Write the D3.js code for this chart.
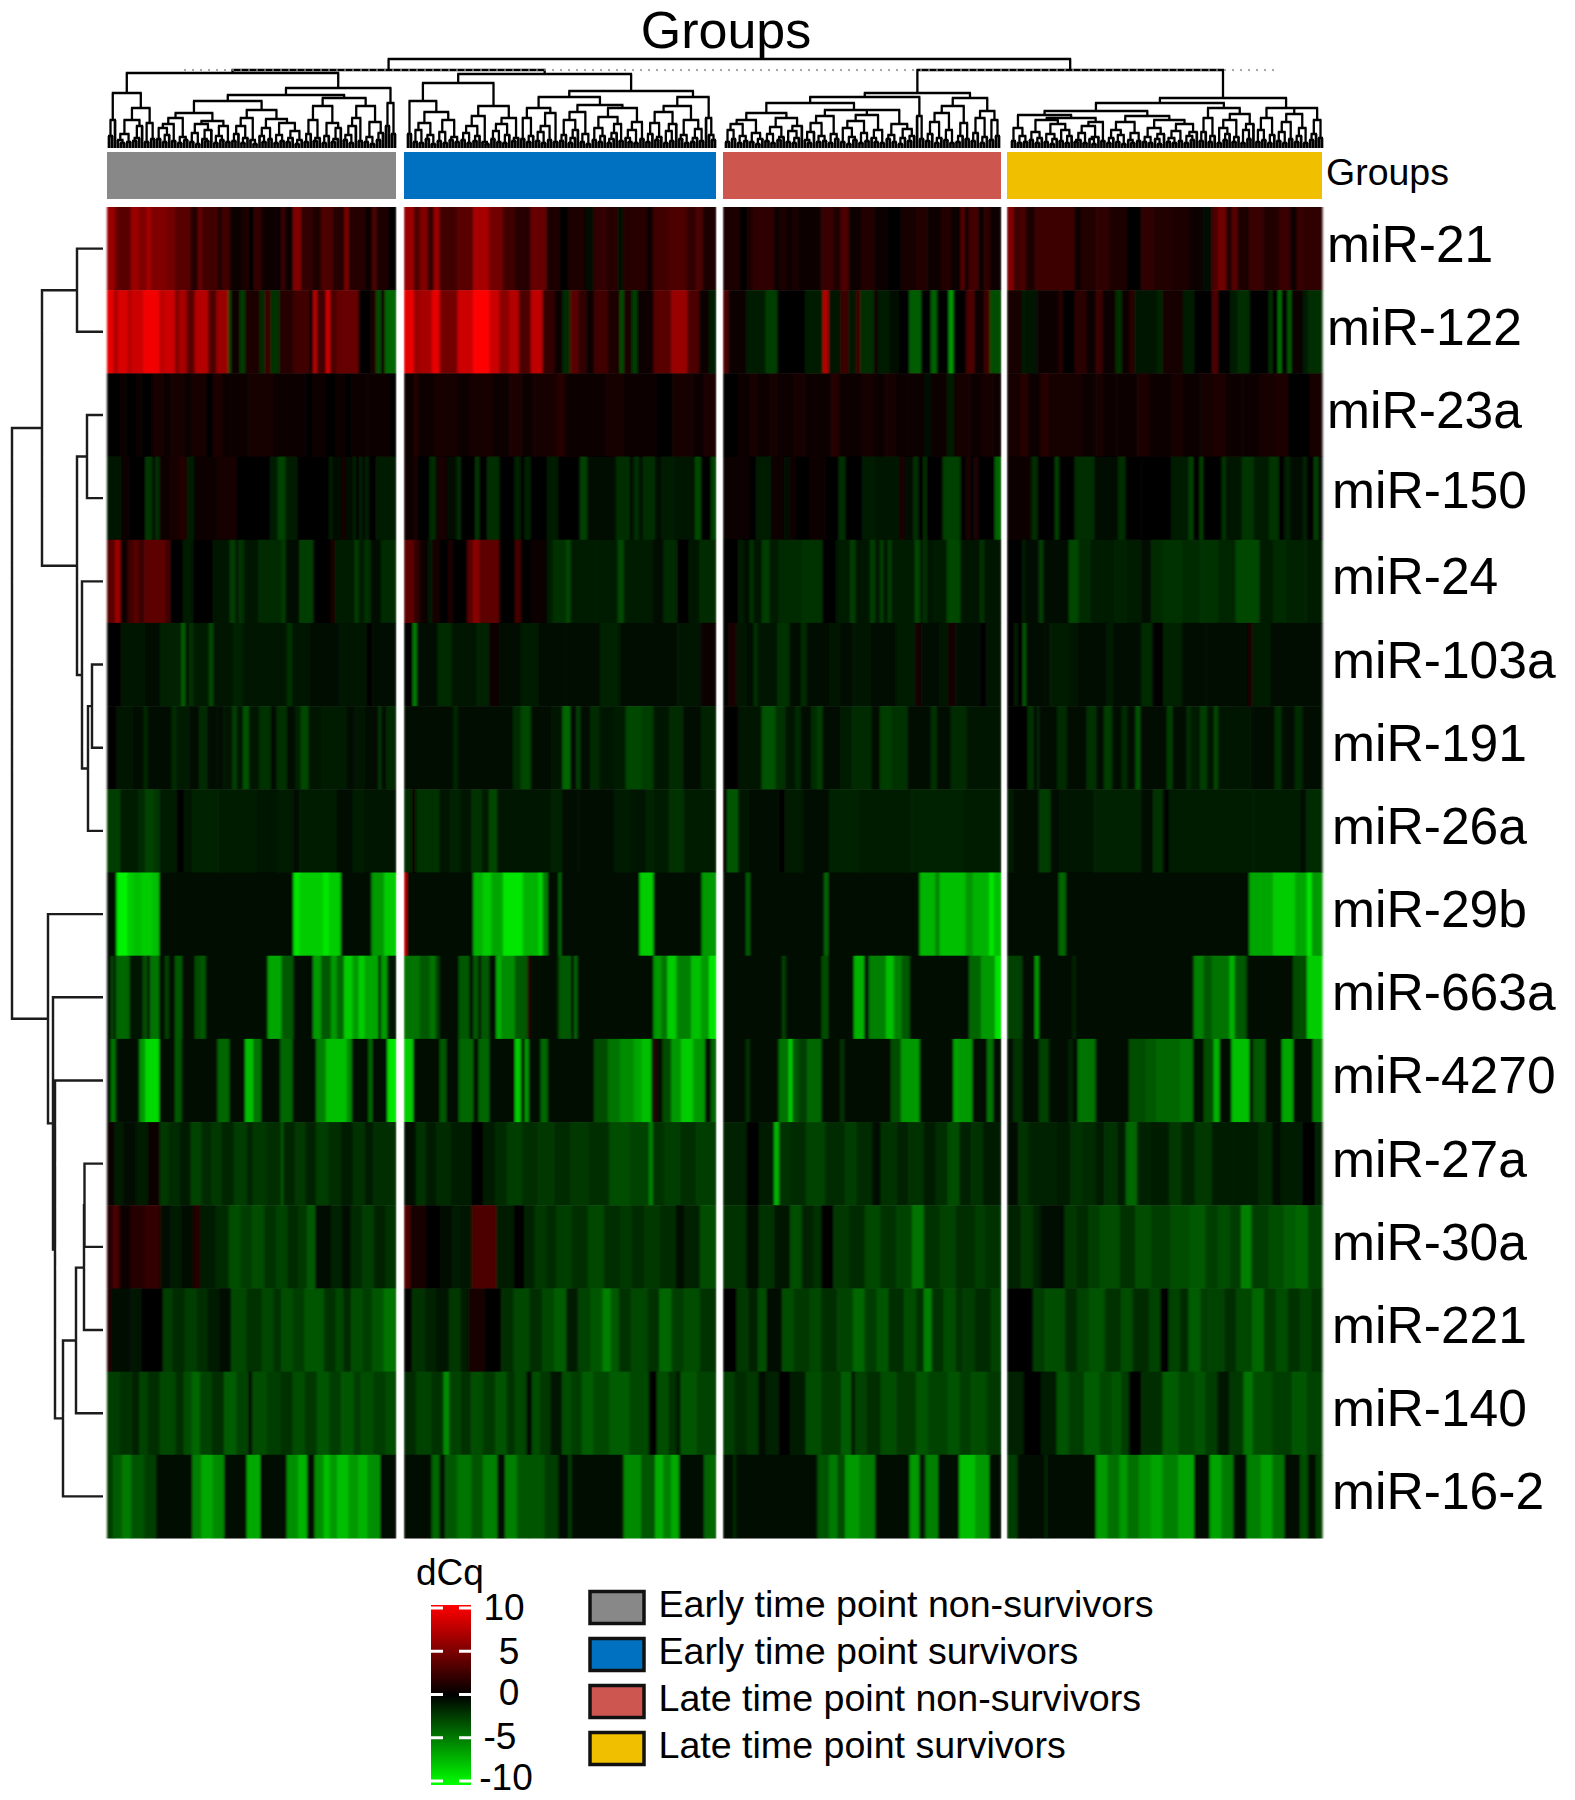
<!DOCTYPE html>
<html><head><meta charset="utf-8">
<script src="https://cdnjs.cloudflare.com/ajax/libs/d3/7.8.5/d3.min.js"></script>
<style>html,body{margin:0;padding:0;background:#fff}svg{display:block}text{font-family:"Liberation Sans",Arial,sans-serif;fill:#000}</style>
</head><body><svg id="c" width="1575" height="1800"></svg>
<script>
// ---------- categories ----------
const rowNames=["miR-21","miR-122","miR-23a","miR-150","miR-24","miR-103a","miR-191","miR-26a","miR-29b","miR-663a","miR-4270","miR-27a","miR-30a","miR-221","miR-140","miR-16-2"];
const groupNames=["Early time point non-survivors","Early time point survivors","Late time point non-survivors","Late time point survivors"];
const groupColors=["#888888","#0070c0","#cd5650","#f0c000"];
const legendTicks=[10,5,0,-5,-10];
// ---------- heatmap values: per row, per group, flat pairs [run width, dCq] ----------
const miR21=[[2,6,1,4,3,3.5,2,6,2,5,1,6.5,4,5,2,4.5,4,3.5,2,1.5,1,4,4,2.5,1,1,2,2.5,3,.5,2,1,1,0,2,2,5,.5,1,2,2,.5,2,5,3,2,2,1,3,3,3,1.5,1,5,4,1.5,2,.5,1,3,3,1,2,0],
[2.5,6,1.5,3,2,5,1.5,2,1.5,6,4.5,2.5,4,3.5,4,6.5,3.5,4.5,3,2.5,4,1.5,4,4,3.5,1,2,0,4.5,1,2,-.5,3.5,2,2.5,1.5,1.5,-.5,6,1.5,1.5,.5,4,2.5,4.5,3,2.5,2,1.5,3,3.5,1],
[4.5,1,1.5,0,1.5,1.2,5.5,1.8,1.5,.5,1.5,1.2,1.5,.3,2,.8,5.5,.5,3,2.2,2,1.3,2,3,3,.5,3.5,1.3,3.5,.5,3,0,4,.8,3,1.3,3.5,.5,2.5,1.3,2.5,.5,1,3.5,1,.5,2.5,2.6,1.5,.5,1.5,1.8,2.8,.5],
[1.7,5,2,2.5,1,3,2.5,1,10,2.4,1.5,.5,4,1.3,3.5,1.8,4.5,1,3.5,0,3,1.8,5,1.4,4,1,3.5,.5,2.5,-.3,1.5,3,2,4.5,1.5,1.3,1.5,3.5,3,1,3.5,2.2,4,1.3,3,2.2,1.5,.5,1.5,2.2,5,1.8]];
const miR122=[[17,9,10,6.5,25,8.5,10,7,30,8,40,9.5,15,7.5,25,8,10,5,20,6.5,20,3.5,35,7,20,3,30,6,8,-2.4,22,.5,12,-2.4,38,1,13,-1.6,14,2.4,23,-2,35,1.5,40,2.5,10,.5,10,7,22,2.5,11,8,17,3,55,4,30,0,15,1,12,-3,10,.5,28,-4],
[25,9,15,6,30,6.5,20,9,45,4.5,40,8,40,10,25,8,25,5.5,25,7,30,3,30,7.5,30,2,20,.5,20,-1.6,20,3.5,20,2,20,.5,35,2.5,30,1,10,-3,20,1,15,-2.4,40,.5,45,3.5,40,6,30,3,25,.5,18,-1.2],
[13,3,45,.4,50,-1.2,30,-2.4,70,.2,45,-1.2,15,7,30,-.7,20,2.4,20,-.7,10,2.4,35,-1.8,10,.8,30,-1,25,-.4,25,.2,30,-3.6,25,.2,15,-3.8,30,-.2,12,-6,33,0,20,3,25,.4,15,2.4,28,-3],
[37,.8,10,-1.2,30,-.7,55,.6,10,1.6,30,.2,30,1.6,25,.3,15,2.4,35,.4,15,-2,20,.4,12,1.6,58,-.7,15,-1.4,50,.7,30,-1,45,.2,15,3,30,.2,20,-1,30,-1.8,50,.2,8,-2,15,.2,9,-4.5,15,.2,10,-3.6,28,.4,15,-1,35,-1.8]];
const miR23a=[[4,.2,2,.6,3,.2,2,.5,3,.2,4,.8,2,.3,4,.8,2,.3,5,.7,2,.2,3,1,2,.3,4,.6,2,.3,8,.7,2,.4,5,.5,3,.5,2,.2,4,.5,3,0,3,.5,2,.2,5,.6,3,.3,4,.6,2,.2],
[2.5,.5,1,1.5,4,.4,6,.7,3,.4,6,.8,4,.5,3,1,3,.4,6,.7,2,1.5,7,.5,3,.3,5,.8,4,.4,4,.6,4,.2,5,.8,3,.3,3,1],
[4,.2,3,.6,2,.9,3,.3,2,.9,4,.4,3,.8,7,.6,2,1.5,3,.6,3,.3,3,.7,3,.4,3,.7,3,.3,4,.6,2,-.5,4,.6,2,-1,4,.8,3,.3,3,.9,2,.5],
[3,.7,2,1.5,3,.4,2,1.5,8,.9,3,.4,2,.8,3,.3,5,.6,3,1,5,.5,3,.8,4,.4,3,.8,3,1,4,.6,4,.3,4,.7,3,1.1,5,.2,3,.8]];
const miR150=[[37,-.7,20,.6,40,0,18,-2.2,7,0,10,-1.8,25,.3,25,.7,20,1.3,20,-1,55,.4,50,.7,70,0,15,.2,20,-1,20,-2.6,30,-1,80,.2,10,-1,22,-.3,10,.7,18,-.3,7,-1.4,10,.2,8,-1.4,7,0,8,-1.4,20,0,50,-1],
[25,.4,8,1.1,32,-.2,15,-1.8,28,.7,25,-.3,9,-1.8,38,-.2,10,-2.1,20,.2,30,-1.8,40,-.2,15,-1.4,10,.1,15,-1.4,40,.2,30,-1,55,.2,17,-2.5,73,-.5,35,-1.8,10,-.3,15,-1.8,7,-.2,33,-1.8,15,-.3,30,-1,55,-.7,15,-2.8,25,-.2,13,-2.5],
[68,.3,15,.1,40,-1,30,.4,15,-.3,15,.6,35,0,30,.4,15,.4,30,-.2,17,-1.8,43,.1,35,-1,60,-.7,12,1.1,23,-.3,13,-1.8,12,.1,10,-1.8,40,.1,45,-2.5,15,.1,10,1.1,10,0,10,1.1,42,-.2,16,-4],
[62,.4,15,-1.8,45,.2,10,-2.5,40,.1,50,-1.8,60,-.3,20,-1.8,40,-.2,60,0,15,.1,45,-1,12,-2.5,16,-.2,9,-2.5,48,-.2,10,-2.1,40,-.7,30,-2.1,40,-1,25,-2.1,15,-.2,15,-1.4,30,-.3,10,-1.4,20,-.1,10,-2.5,10,-.3]];
const miR24=[[20,3.5,14,6,20,.5,13,2.6,13,3.5,14,2.2,53,3.6,13,2.6,32,.2,25,-1.2,50,.1,45,-.8,13,-2.4,7,-.4,15,-2,35,-.8,60,-1.6,10,-2.4,35,-.4,35,-2.4,45,-.2,10,1.2,50,-1.2,10,-2.4,15,-1.2,15,-2,27,-.4,38,-1.6],
[25,3.6,15,2,20,.3,10,-1.2,20,.8,20,.2,15,1,35,.2,15,3.6,15,5.4,50,3.6,40,0,15,2.6,25,.2,40,.4,15,-1.2,35,-2,10,-2.8,65,-1.2,55,-1.2,15,-2.8,75,-1.2,25,-.3,35,-1.6,30,0,25,-.8,43,-1.6],
[38,0,15,-1.2,15,-.6,10,-2,20,-.8,20,-2.4,25,-1.2,55,-1.6,55,-2,35,0,35,-1.2,13,-2.4,37,-.8,13,-2.4,12,-.8,10,-2.4,10,-.8,10,-2.4,60,-1.2,12,-2.8,8,-.8,10,-2,15,-.8,35,-1,35,-2.8,50,-.8,10,-2,43,-.8],
[37,0,10,-1.2,35,-.4,10,-2.4,65,-.4,25,-2.8,30,-1.6,30,-1.2,30,-1,35,-1.4,35,-1,25,-.3,30,-1.6,50,-2,45,-1.6,45,-2,45,-1.5,60,-2.8,35,-1.2,35,-1.6,50,-1.4,40,-1.2]];
const miR103a=[[34,0,63,-.8,35,-.3,55,-1.4,10,-3.6,10,-.6,10,-2,40,-1,10,-2.8,50,-.8,25,-1.4,110,-.8,13,-2,47,-.8,70,-.6,70,-.8,15,0,60,-.6],
[22,0,10,-5,53,-.6,35,-1.6,65,-.8,30,-1.4,25,.3,55,-.6,45,-1,70,-.6,85,-.6,50,-1.4,50,-.6,95,-.6,60,-.8,38,.3],
[13,.2,20,.8,30,-.8,15,-.3,10,-2,50,-.8,30,-2,30,-.4,15,-1.6,55,-.6,30,-.8,30,-.3,50,-.8,60,-.4,50,-1,15,.8,45,-.4,25,-.8,17,.8,63,-.6,15,0,38,-.8],
[17,0,10,-1.2,13,0,8,-3.6,49,-.6,13,-.3,47,-1.2,25,-.8,70,-.5,20,-1,70,-.3,28,-1.6,27,.2,50,-1.4,60,-.5,75,-.6,30,-.3,12,1,48,-1,60,-.4,70,-.4]];
const miR191=[[22,.2,45,-.8,25,-.3,10,-1.6,60,-.5,12,-1.6,33,-1.2,25,-.6,20,-1.6,25,-.6,15,-.6,23,-.8,12,-2.4,15,-.8,15,-3.2,25,-.8,30,-2,15,-.6,25,-2,20,-.6,15,-1.4,20,-2.8,30,-.8,65,-1,20,-.5,28,-.8,32,-.6,8,-2,12,-.6,25,-1.6],
[40,-.3,25,-.4,60,-.3,10,-1.6,120,-.3,20,-.6,20,-1.6,25,-2.8,50,-.4,30,-.8,20,-4,15,-.4,10,-2.4,25,-.4,25,-1.6,35,-.8,30,-1.2,40,-2.8,30,-2.4,40,-.8,35,-1.6,45,-.4,38,-1.4],
[38,0,60,-.8,35,-3.2,25,-2,25,-.8,15,-1.6,25,-.3,15,-1.6,15,-2.4,45,-.6,30,-1.2,50,-1.6,20,-.6,30,-2.4,40,-2,60,-.6,15,-2,35,-.6,40,-1.6,88,-.8],
[52,-.2,15,-2,10,-.3,5,-1.6,45,-.3,25,-1.6,30,-.6,20,-.3,25,-2,20,-.3,20,-2.4,25,-.4,15,-1.6,20,-.4,12,-3.2,68,-.6,15,-2.4,35,-.4,10,-2,25,-1.2,17,-2.4,18,-.8,10,-2.8,85,-.8,60,-.6,17,-2,33,-.5,20,-1.6,50,-.6]];
const miR26a=[[34,-2.4,43,-1.2,20,-1.6,20,-2.6,15,-2.2,45,-1.2,17,0,20,-.8,68,-1.4,70,-1.2,30,-1,50,-.8,40,-1.2,15,-.4,95,-1,40,-.6,30,-1,80,-.8],
[20,-1.6,10,.5,60,-2,25,-.8,30,-1.4,25,-.8,25,-2,20,-1.2,20,-2.8,25,-.8,110,-.8,30,-1.4,40,-.5,60,-.6,30,-.6,40,-1.2,40,-.8,20,-1.4,40,-1.2,35,-2,83,-1.2],
[10,0,28,-3.4,30,-.8,75,-.4,15,0,45,-1.2,25,-.4,40,-.4,75,-1.4,55,-1.2,80,-1.2,130,-1.4,98,-1.2],
[17,-1.2,35,-.4,30,-.6,28,-2.4,22,-.4,90,-.8,120,-1.4,30,-.4,25,-2,15,-.2,130,-1,85,-1.2,120,-1.2,15,-.4,40,-1.6]];
const miR29b=[[24,-.3,28,-9.5,15,-8,20,-7.5,25,-8,20,-7.5,340,-.6,15,-9,60,-8,15,-9,30,-8,78,-.6,32,-6,30,-8],
[7,8,168,-.5,25,-7,20,-8,30,-6.5,50,-9,40,-7,10,-8.5,13,-5,27,-.6,7,-4,198,-.6,35,-8,122,-.6,36,-6],
[58,-.6,10,-3.5,187,-.6,10,-4,230,-.6,40,-7,10,-5,65,-7.5,20,-6,40,-7,12,-9,18,-7.5],
[130,-.6,18,-4,462,-.6,60,-6.5,55,-8,30,-6.5,12,-9,26,-6]];
const miR663a=[[10,-.5,6,-3,6,-.5,35,-4,33,-.8,12,-3,7,-.5,23,-4.5,15,-.5,10,-2.5,15,-.5,18,-3.5,32,-.5,15,-3,13,-3.5,157,-.6,35,-6.5,30,-3.5,50,-.6,20,-6,25,-3.5,15,-6,18,-4,22,-8,15,-6,15,-8,35,-6.5,7,-.6,16,-6,22,-.8],
[40,-4.5,25,-3.5,15,-4.5,10,-2.5,48,-.6,27,-3.5,10,-.6,13,-3.5,7,-.5,20,-3.5,18,-.6,12,-7,35,-5.5,32,-3.5,8,1.5,70,-.6,32,-3.5,8,-.6,8,-4,192,-.6,20,-6,15,-4.5,23,-8,37,-5,25,-7.5,20,-6,18,-9],
[148,-.5,10,-2.5,90,-.5,17,-3,65,-.5,25,-7,13,-1,42,-5,20,-7.5,20,-5,20,-3.5,150,-.5,30,-4,35,-6,15,-9],
[38,-2.5,32,-.5,10,-6,85,-.5,8,-1.5,297,-.5,25,-5,20,-3.5,45,-4.5,13,-7,30,-3.5,117,-.5,35,-3,38,-8]];
const miR4270=[[10,-.5,12,-4.5,60,-.5,15,-6,35,-8.5,40,-.5,17,-3.5,91,-.5,30,-4,40,-.5,20,-7.5,20,-4.5,49,-.5,31,-4,60,-.5,24,-5,53,-7.5,13,-5.5,42,-.5,10,-4,38,-.5,22,-9],
[23,-8,67,-.5,17,-3.5,31,-.5,37,-4,13,-.5,27,-4,65,-.5,15,-8,10,-.8,10,-6,30,-.5,18,-4,117,-.5,35,-3,30,-4.5,35,-5.5,20,-6.5,25,-7.5,7,-.5,6,2,15,-.5,22,-3,25,-6,30,-8,30,-6,15,-.5,13,-4],
[58,-.5,8,-2,74,-.5,25,-4.5,10,-8,15,-3.5,22,-2.5,36,-4,47,-.5,10,-2,117,-.5,26,-3,47,-6,85,-.5,12,-6.5,36,-6,37,-.5,15,-4.5,20,-.5],
[15,-.5,23,-2,42,-.5,25,-2.5,50,-.5,10,-1.5,13,-.5,45,-4.5,84,-.5,43,-3,25,-3.5,60,-4,33,-4.5,27,-.5,25,-3,15,-7,30,-.5,45,-7.5,10,-.5,30,-3.5,42,-.5,28,-6.5,50,-.5,23,-5]];
const miR27a=[[8,.3,12,-1,15,-.3,15,-1.2,15,.5,10,-2.2,15,-1.6,12,-1,13,-2.6,12,-1.6,13,-2.2,15,-1.5,15,-2.4,8,-1.5,17,-2.2,18,-1.8,2,-4,15,-1.5,12,-2.2,13,-1.4,15,-2.4,15,-1.8,15,-1.2,15,-2,10,-1.2,28,-1.8],
[15,-.4,12,-2,13,-1.2,20,-1.6,25,-1.2,15,0,15,-1,15,-1.6,20,-2.4,20,-1.8,20,-2.2,20,-1.6,25,-2.2,25,-1.8,25,-3,25,-2.6,5,-5,15,-2,20,-2.4,20,-1.8,25,-2.4],
[30,-1.4,15,0,20,-1,6,-7,14,-2,20,-1.6,25,-2.6,25,-1.6,15,-2.4,20,-1.6,10,-.6,20,-2,15,-1.4,20,-2,15,-1.2,15,-1.8,15,-3,15,-1.4,15,-2,23,-1],
[13,-.6,12,-2,13,-1.4,20,-1.4,15,-1,15,-2,15,-1.6,10,-1.2,15,-2,10,-1,13,-4,17,-1.4,20,-1,15,-2.2,15,-1.4,20,-2.2,25,-1.2,30,-1,15,-1.6,10,-.4,25,-1,15,-.2,8,-1.4]];
const miR30a=[[8,1.5,7,3,15,.3,18,1.5,20,2,12,-.5,15,-1,15,-.6,8,1.5,20,-1,17,-1.6,15,-3,15,-2.4,15,-3,15,-2,15,-2.6,13,-1.6,12,-2.2,10,-3.5,20,-.4,15,-1.4,10,-.3,15,-1.6,15,-2.4,15,-1.4,13,-2],
[8,3,20,.8,17,0,15,-.6,10,-1.2,15,-.7,30,3,23,-1,12,0,13,-1.4,15,-2.2,12,-1.6,20,-2.4,20,-1.8,20,-2.8,20,-1.8,15,-2.2,15,-1.6,20,-2.2,20,-1.6,10,-.3,20,-1.4,20,-3],
[30,-2,15,-.3,20,-2,20,-.7,15,-3,15,-1.4,10,-2,15,0,20,-2.2,20,-1.6,20,-2.8,20,-2,20,-2.6,15,-4.5,20,-2,20,-2.6,25,-1.8,13,-2.4,20,-2],
[18,-1.4,15,-2.2,10,-1.4,30,-.6,15,-2.2,15,-1.6,15,-2.4,25,-3,20,-2,20,-3,25,-2.4,25,-3,20,-3.5,15,-2.4,15,-3,15,-2.4,13,-5,22,-2.4,20,-3,15,-3.6,15,-4,18,-2.6]];
const miR221=[[5,1.5,25,-.3,15,-.7,27,-.2,13,-2.4,15,-1.6,15,-2.4,15,-1.8,15,-1.2,15,-.4,20,-2.8,20,-2,15,-2.8,10,-2,15,-3,15,-2.4,25,-3.4,15,-2,10,-2.8,10,-1.6,15,-3,12,-2.4,15,-3.4,16,-4.5],
[10,0,15,-2,15,-1.4,15,-.7,15,-2.2,10,-1,20,.8,20,0,15,-1.8,20,-2.8,15,-1.8,15,-2.8,15,-3.6,15,-1.2,15,-2.6,15,-3.4,10,-5,10,-3.5,15,-2,20,-2.8,15,-2,15,-4,15,-2.4,20,-3,20,-2],
[17,-.1,15,-2.2,12,-1.4,11,-3,20,-.5,15,-3,20,-2.2,15,-2.8,20,-1.8,20,-2.6,15,-4,15,-2.4,15,-3.4,20,-1.8,15,-3,10,-2,10,-5,15,-2,15,-3,10,-2,15,-2.4,20,-1.6,13,-2.6],
[33,-.2,15,-2.4,25,-3,15,-1.6,15,-2.6,20,-3.2,20,-2,15,-3,20,-1.6,15,-2.6,10,-.2,15,-2.6,10,-1.6,15,-3.6,10,-2.4,20,-2.6,15,-1.8,20,-2.8,15,-4,15,-2.2,15,-3,15,-2,15,-2.6,13,-2]];
const miR140=[[15,-2.4,15,-2,10,-1.4,10,-2.6,15,-1.8,20,-2.8,10,-1.8,10,-3,10,-4,15,-2.6,15,-1.8,15,-3.6,15,-2.6,5,-.3,18,-3,17,-2.4,15,-2,15,-3,15,-2.2,15,-3.4,15,-2.4,15,-3.4,10,-2.4,15,-3,15,-2.4,13,-3],
[15,-1.6,20,-2.6,15,-2,7,-5.5,15,-2.6,13,-2,15,-3,15,-2.2,15,-3.2,10,-2,15,-2.8,7,-.3,10,-3,13,-2.2,15,-.7,12,-3,13,-2.4,15,-3.6,20,-2.8,25,-3.6,25,-2.8,10,0,15,-3,10,-2,5,-.7,20,-3.4,25,-2.6],
[15,-2.4,15,-1.6,15,-2.2,10,-.6,15,-1.4,15,-.2,20,-1.2,20,-3,25,-2.2,13,-3.6,4,-.3,15,-2.6,18,-1.8,20,-3,25,-2.2,15,-3.4,25,-2.6,15,-3.2,15,-2.4,20,-3,18,-2.2],
[21,-1.4,22,-.2,20,-1,15,-3.2,20,-2.4,20,-3.6,15,-2.8,12,-3.4,10,-2.4,16,-.2,27,-1.8,20,-3.6,20,-2.8,15,-3.2,15,-2.4,15,-.8,18,-2.2,12,-4.5,25,-3,25,-2.4,18,-3.4,20,-2.6]];
const miR162=[[8,-2.4,12,-3.6,12,-4.8,18,-3.2,15,-2.4,48,-.4,12,-5,15,-6.6,15,-5.4,30,-.4,18,-6.6,35,-.4,15,-5.6,12,-7,10,-.4,12,-5.6,8,-7.5,10,-6,15,-7.5,13,-6,12,-7,17,-5.6,21,-.4],
[35,-.4,10,-4,7,-.4,15,-3.5,18,-4.6,15,-3.4,18,-5,10,-.4,15,-5,15,-3.4,20,-3.4,17,-2.4,13,-.4,4,-2.4,66,-.4,22,-5.4,18,-3.4,10,-6.8,10,-5,10,-6.6,32,-.4,15,-4],
[13,-.4,4,-1.6,103,-.4,15,-3.4,10,-4.8,10,-3,18,-6,20,-4.8,44,-.4,12,-6,8,-.8,16,-5,27,-.4,20,-7.5,18,-6,15,-.4],
[13,-2.4,15,-.4,20,-.4,3,-1.6,62,-.4,15,-6,15,-4.4,10,-6,15,-4.4,15,-5.6,15,-6.4,20,-5,20,-6.4,20,-.4,15,-6.4,15,-4.8,17,-.4,18,-5,15,-6.2,15,-4.4,20,-.4,10,-3,10,-.4,8,-2.4]];
const rowValues=[miR21,miR122,miR23a,miR150,miR24,miR103a,miR191,miR26a,miR29b,miR663a,miR4270,miR27a,miR30a,miR221,miR140,miR162];
// ---------- sample dendrogram: merge height between neighbouring leaves, per group ----------
const mergeEarlyNon=[12,28,55,8,5,14,6,28,7,10,22,40,6,25,9,75,9,20,6,13,24,7,30,5,11,8,35,6,15,4,24,9,7,18,27,5,12,8,22,6,47,7,14,22,5,10,30,8,4,38,12,6,20,9,29,5,13,7,25,6,10,17,4,8,53,6,14,28,7,10,42,5,12,25,6,9,20,50,8,13,5,22,30,7,42,6,11,4,26,8,15,60,22,45,14];
const mergeEarlySur=[14,47,6,18,5,25,9,13,4,36,7,16,5,28,8,11,6,65,8,15,5,22,7,12,32,6,4,42,9,17,6,24,5,13,30,7,10,74,9,30,6,12,40,7,16,5,22,8,35,6,51,7,13,28,5,10,18,36,6,14,4,43,8,20,6,12,31,5,9,15,24,7,40,10,6,18,5,26,9,57,6,14,25,8,11,36,5,17,7,24,42,9,13,5,28,6,10,19,7,51,30,13,8];
const mergeLateNon=[6,18,9,24,5,12,7,28,6,15,4,9,35,7,14,5,21,8,11,30,6,17,5,10,22,45,8,5,16,25,6,12,7,32,5,14,9,38,6,20,4,11,8,27,5,15,7,33,10,6,18,5,38,9,13,6,24,4,10,19,7,12,51,32,9,55,7,14,26,5,10,35,8,18,5,42,6,12,25,9,50,7,15,30,5,11,37,8,28,12];
const mergeLateSur=[7,20,5,12,6,33,8,16,5,10,28,6,14,4,9,24,7,18,5,12,30,6,8,15,5,22,9,4,11,26,7,37,5,10,18,6,13,4,26,8,5,15,7,32,6,11,5,20,9,4,14,28,6,10,5,17,7,24,5,12,8,16,45,7,16,30,6,12,40,5,20,8,14,28,6,11,34,5,18,9,24,50,6,18,8,30,5,13,40,7,16,5,26,9,34,6,12,20,5,40,8,14,28,10];
const mergeBetween=[78,89,78];
// ---------- miRNA dendrogram: [height, left, right], leaves are row names ----------
const rowTree=[91,
 [61,[26,"miR-21","miR-122"],
     [26,[16,"miR-23a","miR-150"],
         [21,"miR-24",[15,[11,"miR-103a","miR-191"],"miR-26a"]]]],
 [55,"miR-29b",
     [50,"miR-663a",
         [48,"miR-4270",
             [40,[27,[19,[18.5,"miR-27a","miR-30a"],"miR-221"],"miR-140"],"miR-16-2"]]]]];

// ---------- layout ----------
const svg=d3.select("#c");
const panelX=[[107,396],[404,716],[723,1001],[1007,1322]];
const leafX=[[109,395],[408,715],[726,999],[1012,1322]];
const heatTop=207,heatBottom=1538;
const color=d3.scaleLinear().domain([-10,0,10]).range(["#00ff00","#000000","#ff0000"]).clamp(true);
const yRow=d3.scaleBand().domain(rowNames).range([heatTop,heatBottom]);
const defs=svg.append("defs");
const blur=(id,s)=>defs.append("filter").attr("id",id).attr("filterUnits","userSpaceOnUse").attr("x",0).attr("y",0).attr("width",1575).attr("height",1800).append("feGaussianBlur").attr("stdDeviation",s);
blur("b1","1.0 0.7");blur("b2","0.45");blur("b3","0.5");

// heatmap
const gHeat=svg.append("g").attr("filter","url(#b1)");
rowValues.forEach((row,r)=>{
  row.forEach((flat,p)=>{
    const runs=d3.range(0,flat.length,2).map(i=>({w:flat[i],v:flat[i+1]}));
    const total=d3.sum(runs,d=>d.w);
    const x=d3.scaleLinear().domain([0,total]).range(panelX[p]);
    let acc=0;runs.forEach(d=>{d.a=acc;acc+=d.w;});
    gHeat.append("g").selectAll("rect").data(runs).join("rect")
      .attr("x",d=>x(d.a)).attr("width",d=>x(d.a+d.w)-x(d.a)+0.6)
      .attr("y",yRow(rowNames[r])).attr("height",yRow.bandwidth()+0.5)
      .attr("fill",d=>color(d.v));
  });
});
// white separators keep the panel edges clean
svg.append("g").selectAll("rect").data(d3.range(3)).join("rect")
  .attr("x",i=>panelX[i][1]+0.5).attr("width",i=>panelX[i+1][0]-panelX[i][1]-1)
  .attr("y",heatTop-2).attr("height",heatBottom-heatTop+6).attr("fill","#fff");

// group annotation
const gAnn=svg.append("g").attr("filter","url(#b3)");
gAnn.selectAll("rect").data(groupColors).join("rect")
  .attr("x",(d,i)=>panelX[i][0]).attr("width",(d,i)=>panelX[i][1]-panelX[i][0])
  .attr("y",152).attr("height",47).attr("fill",d=>d);

// sample dendrogram
const yDen=d3.scaleLinear().domain([0,89]).range([148,59]);
const allX=[],allGaps=[];
[mergeEarlyNon,mergeEarlySur,mergeLateNon,mergeLateSur].forEach((g,p)=>{
  const n=g.length+1;
  const sx=d3.scaleLinear().domain([0,n-1]).range(leafX[p]);
  d3.range(n).forEach(i=>allX.push(sx(i)));
  g.forEach(v=>allGaps.push(v));
  if(p<3) allGaps.push(mergeBetween[p]);
});
const denPath=d3.path(),leafPath=d3.path();
function stem(x,fromH,toH){
  const p=fromH===0?leafPath:denPath;
  p.moveTo(x,yDen(fromH));p.lineTo(x,yDen(toH));
}
function build(lo,hi){
  if(lo===hi) return {x:allX[lo],h:0};
  let m=lo;for(let i=lo;i<hi;i++) if(allGaps[i]>allGaps[m]) m=i;
  const l=build(lo,m),r=build(m+1,hi),h=allGaps[m];
  stem(l.x,l.h,h);stem(r.x,r.h,h);
  denPath.moveTo(l.x-1,yDen(h));denPath.lineTo(r.x+1,yDen(h));
  return {x:(l.x+r.x)/2,h};
}
build(0,allX.length-1);
const gDen=svg.append("g").attr("filter","url(#b2)");
gDen.append("path").attr("d",denPath.toString()).attr("fill","none").attr("stroke","#000").attr("stroke-width",2.3);
gDen.append("path").attr("d",leafPath.toString()).attr("fill","none").attr("stroke","#000").attr("stroke-width",2.7);
gDen.append("line").attr("x1",184).attr("x2",1277).attr("y1",yDen(78)).attr("y2",yDen(78)).attr("stroke","#888").attr("stroke-width",1.4).attr("stroke-dasharray","2 6");

// miRNA dendrogram
const xRowDen=d3.scaleLinear().domain([0,91]).range([103,12]);
const rowPath=d3.path();
function buildRow(n){
  if(typeof n==="string") return {y:yRow(n)+yRow.bandwidth()/2,h:0};
  const [h,a,b]=n;const l=buildRow(a),r=buildRow(b);
  rowPath.moveTo(xRowDen(l.h),l.y);rowPath.lineTo(xRowDen(h),l.y);rowPath.lineTo(xRowDen(h),r.y);rowPath.lineTo(xRowDen(r.h),r.y);
  return {y:(l.y+r.y)/2,h};
}
buildRow(rowTree);
svg.append("path").attr("d",rowPath.toString()).attr("fill","none").attr("stroke","#1a1a1a").attr("stroke-width",2.4).attr("filter","url(#b2)");

// row labels
svg.append("g").selectAll("text").data(rowNames).join("text")
  .attr("x",(d,i)=>i<3?1327:1332)
  .attr("y",(d,i)=>yRow(d)+yRow.bandwidth()/2+13-(i===3?3:0))
  .attr("font-size",51.6).text(d=>d);
// titles
svg.append("text").attr("x",726).attr("y",48).attr("text-anchor","middle").attr("font-size",52).text("Groups");
svg.append("text").attr("x",1326).attr("y",185).attr("font-size",37.5).text("Groups");

// colour legend
const yLeg=d3.scaleLinear().domain([10,-10]).range([1608,1781]);
const grad=defs.append("linearGradient").attr("id","lg").attr("x1",0).attr("x2",0).attr("y1",0).attr("y2",1);
[10,0,-10].forEach(v=>grad.append("stop").attr("offset",(10-v)/20).attr("stop-color",color(v)));
svg.append("rect").attr("x",431).attr("width",40).attr("y",1605).attr("height",180).attr("fill","url(#lg)");
legendTicks.forEach(t=>{
  [[431,443],[459,471]].forEach(([a,b])=>svg.append("line").attr("x1",a).attr("x2",b)
    .attr("y1",yLeg(t)).attr("y2",yLeg(t)).attr("stroke","#fff").attr("stroke-width",3));
});
const tickCx={"10":504,"5":509,"0":509,"-5":500,"-10":506};
const tickY={"10":1620,"5":1664,"0":1705,"-5":1749,"-10":1790};
svg.append("g").selectAll("text").data(legendTicks).join("text")
  .attr("x",d=>tickCx[d]).attr("y",d=>tickY[d]).attr("text-anchor","middle").attr("font-size",37).text(d=>d);
svg.append("text").attr("x",416).attr("y",1585).attr("font-size",37).text("dCq");

// group legend
const yGroup=d3.scaleBand().domain(groupNames).range([1584,1772]);
const legG=svg.append("g").selectAll("g").data(groupNames).join("g");
legG.append("rect").attr("x",590).attr("width",54).attr("y",d=>yGroup(d)+yGroup.bandwidth()/2-16).attr("height",32)
  .attr("fill",(d,i)=>groupColors[i]).attr("stroke","#111").attr("stroke-width",3.5);
legG.append("text").attr("x",658.5).attr("y",d=>yGroup(d)+yGroup.bandwidth()/2+9).attr("font-size",37.6).text(d=>d);
</script></body></html>
